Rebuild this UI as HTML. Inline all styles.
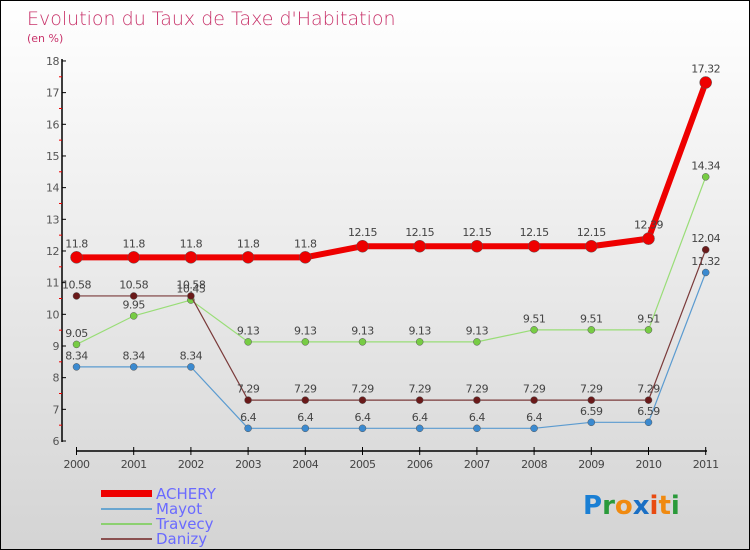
<!DOCTYPE html>
<html><head><meta charset="utf-8"><style>
body{margin:0}
#c{width:748px;height:548px;border:1px solid #000;background:linear-gradient(#fff,#d4d4d4);position:relative;overflow:hidden;font-family:"DejaVu Sans","Liberation Sans",sans-serif}
</style></head><body>
<div id="c">
<svg id="s" width="748" height="548" xmlns="http://www.w3.org/2000/svg" style="position:absolute;left:0;top:0">
<text x="26" y="24" font-size="19" fill="#c8336a" font-family="DejaVu Sans, sans-serif" font-weight="200">Evolution du Taux de Taxe d'Habitation</text>
<text x="26" y="41" font-size="11" fill="#c8336a">(en %)</text>
<g id="axes"></g><g id="series"></g>
<g>
<rect x="100" y="489" width="51" height="7" fill="#e00"/>
<line x1="100" y1="508" x2="151" y2="508" stroke="#6aa6d0" stroke-width="2"/>
<line x1="100" y1="523" x2="151" y2="523" stroke="#8cd070" stroke-width="2"/>
<line x1="100" y1="538" x2="151" y2="538" stroke="#8a5050" stroke-width="2"/>
<text x="155" y="498" font-size="15" fill="#6a6aff">ACHERY</text>
<text x="155" y="513" font-size="15" fill="#6a6aff">Mayot</text>
<text x="155" y="528" font-size="15" fill="#6a6aff">Travecy</text>
<text x="155" y="543" font-size="15" fill="#6a6aff">Danizy</text>
</g>
<text x="582" y="513" font-size="26" font-weight="bold"><tspan fill="#1a7fd4">P</tspan><tspan fill="#2a9a3a">r</tspan><tspan fill="#f08a10">o</tspan><tspan fill="#1a6fc4">x</tspan><tspan fill="#e84a10">i</tspan><tspan fill="#f08a10">t</tspan><tspan fill="#2a9a3a">i</tspan></text>
</svg>
</div>
<script>
const years=["2000","2001","2002","2003","2004","2005","2006","2007","2008","2009","2010","2011"];
const yTicks=[6,7,8,9,10,11,12,13,14,15,16,17,18];
const achery=[11.8,11.8,11.8,11.8,11.8,12.15,12.15,12.15,12.15,12.15,12.39,17.32];
const mayot=[8.34,8.34,8.34,6.4,6.4,6.4,6.4,6.4,6.4,6.59,6.59,11.32];
const travecy=[9.05,9.95,10.45,9.13,9.13,9.13,9.13,9.13,9.51,9.51,9.51,14.34];
const danizy=[10.58,10.58,10.58,7.29,7.29,7.29,7.29,7.29,7.29,7.29,7.29,12.04];
const NS="http://www.w3.org/2000/svg";
const X=i=>75.5+i*57.2;
const Y=v=>440-(v-6)*31.67;
function mk(t,a,p){const e=document.createElementNS(NS,t);for(const k in a)e.setAttribute(k,a[k]);p.appendChild(e);return e;}
const ax=document.getElementById('axes');
let l=mk('line',{x1:61,y1:58,x2:61,y2:441,stroke:'#000','stroke-width':1.5},ax);


l=mk('line',{x1:75,y1:450,x2:706,y2:450,stroke:'#000','stroke-width':1.5},ax);


yTicks.forEach((v,i)=>{
 mk('line',{x1:61,y1:Y(v),x2:65,y2:Y(v),stroke:'#000'},ax);
 if(i<yTicks.length-1)mk('line',{x1:58,y1:Y(v+0.5),x2:61,y2:Y(v+0.5),stroke:'#e00'},ax);
 const t=mk('text',{x:58,y:Y(v)+4,'font-size':11,fill:'#555','text-anchor':'end','letter-spacing':'-0.5'},ax);
 t.textContent=v;
 
 
});
years.forEach((y,i)=>{
 mk('line',{x1:X(i),y1:446,x2:X(i),y2:454,stroke:'#000'},ax);
 const t=mk('text',{x:X(i),y:467,'font-size':11,fill:'#444','text-anchor':'middle','letter-spacing':'-0.5'},ax);
 t.textContent=y;
 
 
});
const sg=document.getElementById('series');
function draw(name,data,color,w,r,fill){
 const g=mk('g',{},sg);
 
 
 const p=mk('polyline',{points:data.map((v,i)=>X(i)+','+Y(v)).join(' '),fill:'none',stroke:color,'stroke-width':w,'stroke-linejoin':'round'},g);
 
 
 data.forEach((v,i)=>{
  const c=mk('circle',{cx:X(i),cy:Y(v),r:r,fill:fill,stroke:'#555','stroke-width':0.5},g);
  
  
  const t=mk('text',{x:X(i),y:Y(v)-(r+4),'font-size':11,fill:'#444','text-anchor':'middle','letter-spacing':'-0.5'},g);
  t.textContent=v;
  
  
 });
}
draw('mayot',mayot,'#5b9bd0',1.2,3.5,'#3b8ad0');
draw('travecy',travecy,'#99dd77',1.2,3.5,'#77cc44');
draw('danizy',danizy,'#7a3a3a',1.2,3.5,'#6a1a1a');
draw('achery',achery,'#ee0000',6,6,'#ee0000');
</script>
</body></html>
